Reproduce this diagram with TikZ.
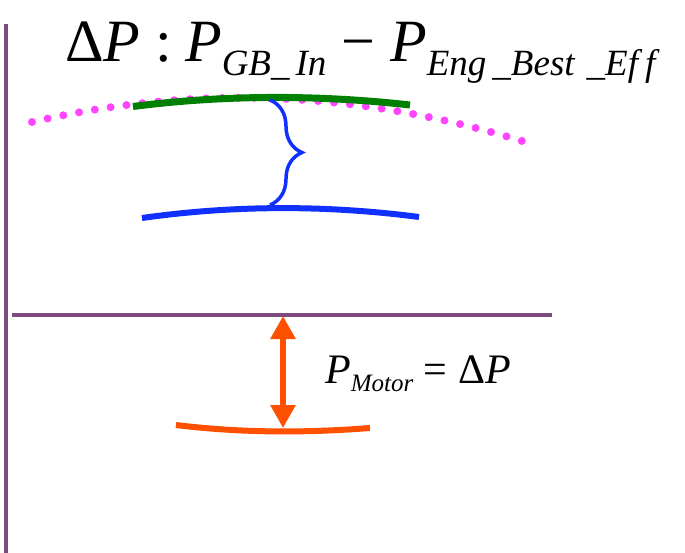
\documentclass[tikz,border=0pt]{standalone}
\usepackage{fontspec}
\setmainfont{Liberation Serif}
\newfontfamily\eqfont{Liberation Serif}
\usepackage{xcolor}
\definecolor{axispurple}{RGB}{125,75,125}
\definecolor{effpink}{RGB}{255,68,255}
\definecolor{gbgreen}{RGB}{0,128,0}
\definecolor{engblue}{RGB}{16,48,255}
\definecolor{motororange}{RGB}{255,80,0}
\usetikzlibrary{arrows.meta, decorations.pathreplacing, positioning}
\newcommand{\lowidx}[3]{\raisebox{-#1}{\eqfont\itshape\fontsize{#2}{#2}\selectfont #3}}

\begin{document}
\begin{tikzpicture}[x=1pt, y=-1pt]
                    \useasboundingbox (0,0) rectangle (685,553);
                    \draw[axispurple, line width=4pt] (6,24) -- (6,553);
                    \draw[axispurple, line width=4pt] (12,315) coordinate (axisl) -- (552,315) coordinate (axisr);
                    \node[anchor=base west, inner sep=0pt, font=\eqfont\fontsize{60}{60}\selectfont] (title) at (65,62)
                          {Δ\textit{P} :\hspace{13pt}\textit{P}\lowidx{14pt}{37}{GB\_\hspace{6pt}In} − \textit{P}\lowidx{14pt}{37}{Eng\hspace{6pt}\_Best\hspace{12pt}\_Ef\hspace{7pt}f}};
                    \draw[effpink, line width=8pt, line cap=round, dash pattern=on 0pt off 16pt]
                          (32,122) .. controls (196,84) and (359,91) .. (522,141);
                    \draw[gbgreen, line width=7pt] (133,106.5) coordinate (gbl) .. controls (225,94.7) and (318,94.7) .. (410,105) coordinate (gbr);
                    \draw[engblue, line width=6pt] (142,218) coordinate (engl) .. controls (234,205) and (327,205) .. (419,217) coordinate (engr);
                    \coordinate (bracetop) at (270,100);
                    \coordinate (bracebot) at (270,205);
                    \draw[engblue, line width=3.5pt, decorate, decoration={brace, amplitude=32pt}] (bracetop) -- (bracebot);
                    \draw[motororange, line width=6pt] (176,425) coordinate (motl) .. controls (241,433) and (305,433) .. (370,428) coordinate (motr);
                    \coordinate (arrtop) at (283,316);
                    \coordinate (arrbot) at (283,428);
                    \draw[motororange, line width=6pt, {Triangle[length=23pt, width=24pt]}-{Triangle[length=23pt, width=24pt]}] (arrtop) -- (arrbot);
                    \node[anchor=base west, inner sep=0pt, font=\eqfont\fontsize{42}{42}\selectfont] (motorlbl) at (325,383)
                          {\textit{P}\lowidx{8pt}{25}{Motor} = Δ\textit{P}};
                \end{tikzpicture}
\end{document}
